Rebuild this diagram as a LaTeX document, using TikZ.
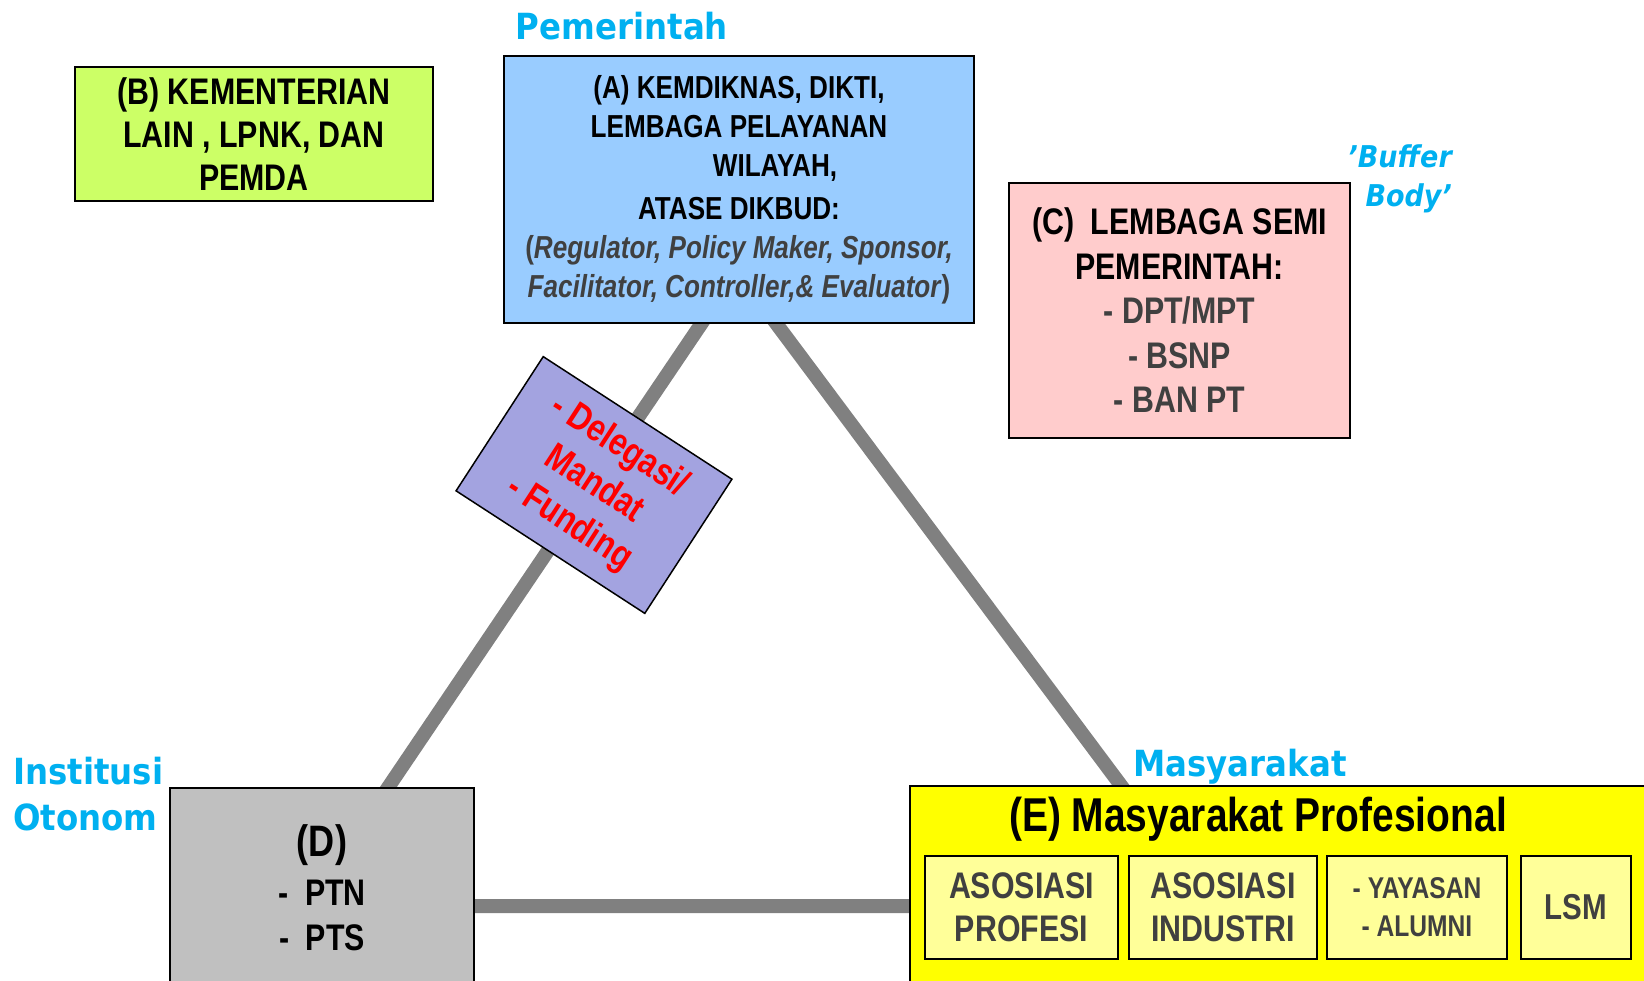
\documentclass[tikz,border=0pt]{standalone}
\usepackage{fontspec}
\setmainfont{Liberation Sans}
\newfontfamily\narrowfont[FakeStretch=0.82]{Liberation Sans}
\newfontfamily\labelfont[FakeStretch=0.9]{DejaVu Sans}
\usepackage{tikz}

\definecolor{govblue}{HTML}{99CCFF}
\definecolor{kemlime}{HTML}{CCFF66}
\definecolor{semipink}{HTML}{FFCCCC}
\definecolor{delegviolet}{RGB}{163,163,224}
\definecolor{ptgray}{HTML}{C0C0C0}
\definecolor{proyellow}{HTML}{FFFF00}
\definecolor{subyellow}{HTML}{FFFF99}
\definecolor{linegray}{HTML}{808080}
\definecolor{labelcyan}{HTML}{00B0F0}
\definecolor{textgray}{HTML}{404040}

\newcommand{\fsz}[2]{\fontsize{#1}{#2}\selectfont}

\tikzset{
  box/.style={draw=black, line width=2pt, inner sep=0pt, align=center},
  subbox/.style={box, fill=subyellow, text=textgray, minimum height=103},
  side/.style={inner sep=0pt, text=labelcyan, font={\labelfont\bfseries\fsz{36}{46}}}
}

\begin{document}
\begin{tikzpicture}[x=1pt,y=1pt]
\useasboundingbox (0,0) rectangle (1644,-980);
\clip (0,0) rectangle (1644,-980);

% triangle behind the boxes
\coordinate (triA) at (737,-271);
\coordinate (triD) at (308,-906);
\coordinate (triE) at (1211,-906);
\draw[linegray, line width=14pt] (triA) -- (triD) -- (triE) -- cycle;

% top
\node[side, anchor=base] (pemerintah) at (622,-39) {Pemerintah};
\node[box, fill=govblue, minimum width=470, minimum height=267,
      font={\narrowfont\bfseries\fsz{31.8}{39}}] (kemdiknas) at (739,-189.5)
     {(A) KEMDIKNAS, DIKTI,\\
      LEMBAGA PELAYANAN\\
      \hspace*{72pt}WILAYAH,\\[4pt]
      ATASE DIKBUD:\\
      \textcolor{textgray}{(\textit{Regulator, Policy Maker, Sponsor,}}\\
      \textcolor{textgray}{\textit{Facilitator, Controller,\& Evaluator})}};

\node[box, fill=kemlime, minimum width=358, minimum height=134,
      font={\narrowfont\bfseries\fsz{37}{43}}] (kementerian) at (254,-134)
     {(B) KEMENTERIAN\\LAIN , LPNK, DAN\\PEMDA};

\node[box, fill=semipink, minimum width=341, minimum height=255,
      font={\narrowfont\bfseries\fsz{37}{44.5}}] (semi) at (1179.5,-310.5)
     {(C)\ \ LEMBAGA SEMI\\PEMERINTAH:\\
      \textcolor{textgray}{- DPT/MPT}\\
      \textcolor{textgray}{- BSNP}\\
      \textcolor{textgray}{- BAN PT}};
\node[side, anchor=north east, align=right,
      font={\labelfont\bfseries\itshape\fsz{30}{39}}] (buffer) at (1452,-145)
     {’Buffer\\Body’};

% on the left side of the triangle
\node[box, line width=1.5pt, fill=delegviolet, rotate=-33, minimum width=225,
      minimum height=160, text=red, font={\narrowfont\bfseries\fsz{38}{46}}]
     (delegasi) at (594,-485) {- Delegasi/\\Mandat\\- Funding};

% bottom left
\node[side, anchor=north west, align=left] (institusi) at (13,-757)
     {Institusi\\Otonom};
\node[box, fill=ptgray, minimum width=304, minimum height=200,
      font={\narrowfont\bfseries\fsz{37}{45}}] (pt) at (322,-888)
     {{\fsz{44}{48}(D)}\\[4pt]-\ \ PTN\\-\ \ PTS};

% bottom right
\node[side, anchor=base] (masyarakat) at (1240,-776) {Masyarakat};
\node[box, fill=proyellow, minimum width=750, minimum height=214]
     (profesional) at (1285,-893) {};
\node[inner sep=0pt, anchor=base, font={\narrowfont\bfseries\fsz{47.5}{50}}]
     (protitle) at (1258,-831) {(E) Masyarakat Profesional};

\node[subbox, minimum width=193, font={\narrowfont\bfseries\fsz{37}{43}}]
     (profesi) at (1021.5,-907.5) {ASOSIASI\\PROFESI};
\node[subbox, minimum width=188, font={\narrowfont\bfseries\fsz{37}{43}}]
     (industri) at (1223,-907.5) {ASOSIASI\\INDUSTRI};
\node[subbox, minimum width=180, font={\narrowfont\bfseries\fsz{30}{38}}]
     (yayasan) at (1417,-907.5) {- YAYASAN\\- ALUMNI};
\node[subbox, minimum width=110, font={\narrowfont\bfseries\fsz{36}{43}}]
     (lsm) at (1576,-907.5) {LSM};
\end{tikzpicture}
\end{document}
